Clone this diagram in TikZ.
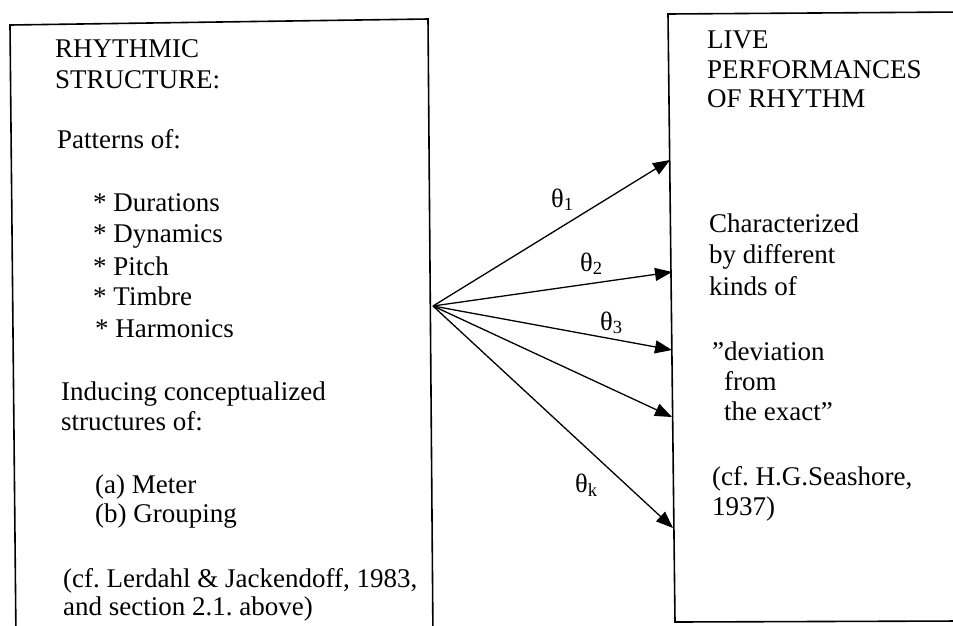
\documentclass[tikz,border=0pt]{standalone}
\usepackage{fontspec}
\setmainfont{Liberation Serif}
\usetikzlibrary{arrows.meta}
\begin{document}
\frenchspacing
\begin{tikzpicture}[x=1pt,y=-1pt,
  txt/.style={anchor=base west, inner sep=0pt, font=\fontsize{27}{31}\selectfont},
  boxline/.style={line width=1.6pt, line join=miter},
  arr/.style={line width=1.3pt, -{Triangle[length=17pt,width=13pt]}},
  lab/.style={anchor=base west, inner sep=0pt, font=\fontsize{26.5}{31}\selectfont}]
\useasboundingbox (0,0) rectangle (953,625);
\clip (0,0) rectangle (953,625);
\fill[white] (0,0) rectangle (953,625);
% boxes
\coordinate (lbl) at (16,640);
\coordinate (ltl) at (10,25);
\coordinate (ltr) at (428,19);
\coordinate (lbr) at (433,640);
\draw[boxline] (lbl) -- (ltl) -- (ltr) -- (lbr);
\coordinate (rtr) at (960,12);
\coordinate (rtl) at (668,14);
\coordinate (rbl) at (675,622);
\coordinate (rbr) at (960,621);
\draw[boxline] (rtr) -- (rtl) -- (rbl) -- (rbr);
% left text
\node[txt] (t1) at (55,57) {RHYTHMIC};
\node[txt] (t2) at (55,88) {STRUCTURE:};
\node[txt] (t3) at (57,148) {Patterns of:};
\node[txt] (t4) at (93,211) {* Durations};
\node[txt] (t5) at (93,242) {* Dynamics};
\node[txt] (t6) at (93,275) {* Pitch};
\node[txt] (t7) at (93,305) {* Timbre};
\node[txt] (t8) at (95,337) {* Harmonics};
\node[txt] (t9) at (61,400) {Inducing conceptualized};
\node[txt] (t10) at (61,430) {structures of:};
\node[txt] (t11) at (95,493) {(a) Meter};
\node[txt] (t12) at (95,522) {(b) Grouping};
\node[txt] (t13) at (63,587) {(cf. Lerdahl \& Jackendoff, 1983,};
\node[txt] (t14) at (63,615) {and section 2.1. above)};
% right text
\node[txt] (r1) at (707,48) {LIVE};
\node[txt] (r2) at (707,78) {PERFORMANCES};
\node[txt] (r3) at (707,107) {OF RHYTHM};
\node[txt] (r4) at (709,232) {Characterized};
\node[txt] (r5) at (709,263) {by different};
\node[txt] (r6) at (709,295) {kinds of};
\node[txt] (r7) at (712,360) {”deviation};
\node[txt] (r8) at (724,390) {from};
\node[txt] (r9) at (724,420) {the exact”};
\node[txt] (r10) at (712,485) {(cf. H.G.Seashore,};
\node[txt] (r11) at (712,515) {1937)};
% arrows
\coordinate (src) at (433,306);
\coordinate (e1) at (670,160);
\coordinate (e2) at (672,272);
\coordinate (e3) at (672,350);
\coordinate (e4) at (672,417);
\coordinate (e5) at (673,528);
\draw[arr] (src) -- (e1);
\draw[arr] (src) -- (e2);
\draw[arr] (src) -- (e3);
\draw[arr] (src) -- (e4);
\draw[arr] (src) -- (e5);
% labels
\node[lab] (th1) at (551,207) {θ\textsubscript{1}};
\node[lab] (th2) at (580,271) {θ\textsubscript{2}};
\node[lab] (th3) at (600,330) {θ\textsubscript{3}};
\node[lab] (thk) at (575,492) {θ\textsubscript{k}};
\end{tikzpicture}
\end{document}
